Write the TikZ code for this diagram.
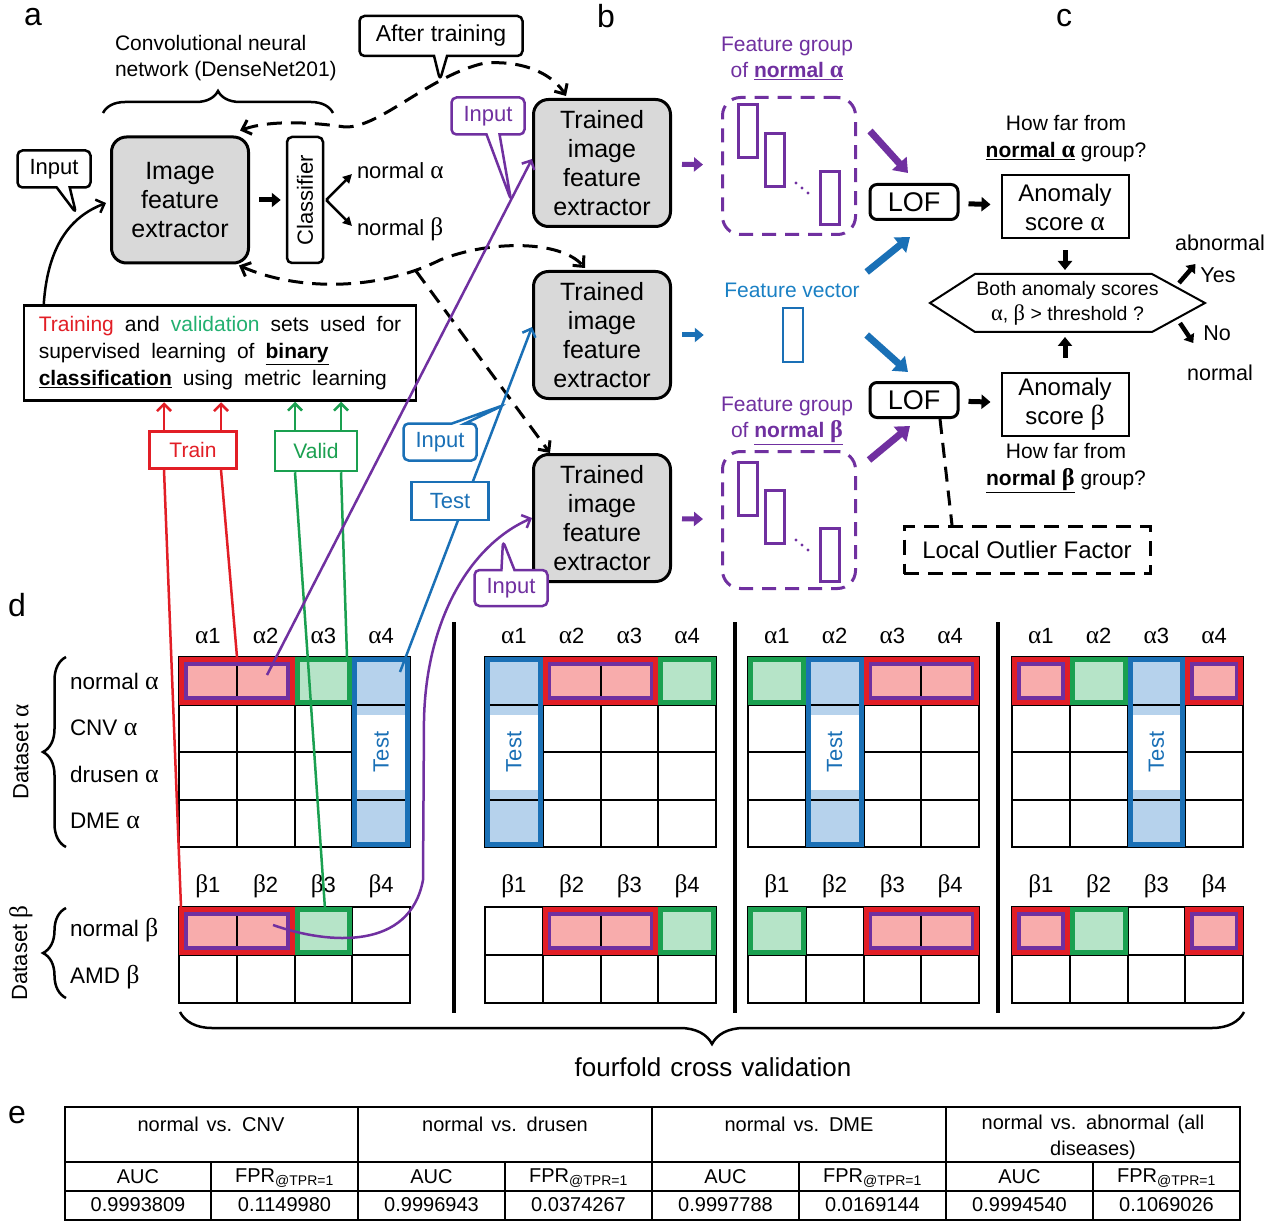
\documentclass[tikz,border=0pt]{standalone}
\usepackage{fontspec}
\setmainfont{Liberation Sans}
\newfontfamily\grk[Scale=MatchLowercase]{Liberation Serif}
\usetikzlibrary{arrows.meta,shapes.callouts,decorations.pathreplacing}
\newcommand\GA{{\grk α}}
\newcommand\GB{{\grk β}}
\newcommand\fs[2]{\fontsize{#1}{#2}\selectfont}
\protected\def\tvfont{\fontsize{21}{27}\selectfont\spaceskip=11pt\relax}
\protected\def\fcvfont{\fontsize{26}{30}\selectfont\spaceskip=9pt\relax}
\protected\def\ttfontx{\fontsize{20}{26}\selectfont\spaceskip=8pt\relax}
\definecolor{cred}{RGB}{226,30,38}
\definecolor{cpink}{RGB}{248,172,172}
\definecolor{cgreen}{RGB}{26,160,80}
\definecolor{clgreen}{RGB}{182,228,200}
\definecolor{cblue}{RGB}{26,112,182}
\definecolor{clblue}{RGB}{182,210,236}
\definecolor{cpurple}{RGB}{112,48,160}
\definecolor{cbluet}{RGB}{26,128,196}
\definecolor{cvalid}{RGB}{34,176,112}
\definecolor{cgray}{RGB}{217,217,217}
\def\cw{57.75}
\def\rh{47.5}
\newcommand\cfill[5]{\fill[#5] ({#1+(#2-1)*\cw},#4) rectangle ({#1+(#3)*\cw},{#4+\rh});}
\newcommand\redsel[4]{%
  \draw[cred,line width=5pt] ({#1+(#2-1)*\cw+2.5},{#4+2.5}) rectangle ({#1+(#3)*\cw-2.5},{#4+\rh-2.5});
  \draw[cpurple,line width=3.5pt] ({#1+(#2-1)*\cw+6.75},{#4+6.75}) rectangle ({#1+(#3)*\cw-6.75},{#4+\rh-6.75});}
\newcommand\grnsel[3]{\draw[cgreen,line width=5pt] ({#1+(#2-1)*\cw+2.5},{#3+2.5}) rectangle ({#1+(#2)*\cw-2.5},{#3+\rh-2.5});}
\newcommand\testfill[2]{\fill[clblue] ({#1+(#2-1)*\cw},657) rectangle ({#1+(#2)*\cw},847);}
\newcommand\testsel[2]{%
  \fill[white] ({#1+(#2-1)*\cw+5},715) rectangle ({#1+(#2)*\cw-5},790);
  \node[txt,rotate=90,text=cblue,font=\fs{22}{26}] (test#1) at ({#1+(#2-0.5)*\cw},752) {Test};
  \draw[cblue,line width=5pt] ({#1+(#2-1)*\cw+2.5},659.5) rectangle ({#1+(#2)*\cw-2.5},844.5);}
\begin{document}
\begin{tikzpicture}[x=1pt,y=-1pt,
  txt/.style={inner sep=0pt, outer sep=0pt, align=center},
  gbox/.style={draw, line width=3pt, rounded corners=15pt, fill=cgray, minimum width=137pt, minimum height=127pt, align=center, inner sep=0pt, font=\fs{25}{29}},
  cbox/.style={rectangle callout, draw, line width=2.5pt, rounded corners=5pt, fill=white, inner sep=0pt, minimum width=73pt, minimum height=37pt, callout pointer width=13pt, font=\fs{22}{26}},
  thinarr/.style={line width=2.5pt, -{Straight Barb[length=7pt,width=14pt]}},
  blk/.style={line width=5pt, -{Triangle[length=9pt,width=14pt]}},
  blks/.style={line width=4.5pt, -{Triangle[length=8pt,width=12pt]}},
  fat/.style={line width=7pt, -{Triangle[length=13pt,width=19pt]}},
  dsh/.style={line width=3pt, dash pattern=on 15pt off 9pt},
  brc/.style={decorate, decoration={brace, amplitude=#1}, line width=2.5pt},
  fgbox/.style={draw=cpurple, line width=3pt, dash pattern=on 14pt off 9pt, rounded corners=18pt, minimum width=133pt, minimum height=137pt, inner sep=0pt},
  vrect/.style={draw=cpurple, line width=2.5pt, minimum width=19pt, minimum height=53pt, inner sep=0pt},
  lofbox/.style={draw, line width=3pt, rounded corners=7pt, minimum width=88pt, minimum height=35pt, inner sep=0pt, font=\fs{27}{30}},
  abox/.style={draw, line width=2pt, minimum width=127pt, minimum height=63pt, inner sep=0pt, align=center, font=\fs{24}{29}},
  gline/.style={line width=2pt, line cap=rect},
  tline/.style={line width=2pt},
  lbl/.style={txt, font=\fs{32}{36}},
  tt/.style={txt, font=\ttfontx}
]
\useasboundingbox (0,0) rectangle (1279,1222);
\fill[white] (0,0) rectangle (1279,1222);

% panel letters
\node[lbl] (la) at (33,17) {a};
\node[lbl] (lb) at (606,16) {b};
\node[lbl] (lc) at (1064,18) {c};
\node[lbl] (ld) at (17,605) {d};
\node[lbl] (le) at (17,1115) {e};

% ---------- panel a ----------
\node[txt, anchor=west, align=left, font=\fs{21}{26}] (cnn) at (115,58) {Convolutional neural\\network (DenseNet201)};
\draw[brc=22pt] (103,113) -- (333,113);
\node[gbox, minimum height=126pt] (ife) at (180,200) {Image\\feature\\extractor};
\node[draw, line width=2.5pt, rounded corners=5pt, minimum width=36pt, minimum height=126pt, inner sep=0pt] (cls) at (305,200) {};
\node[txt, rotate=90, font=\fs{22}{26}] (clst) at (cls) {Classifier};
\draw[blk, shorten <=9pt, shorten >=5pt] (ife) -- (cls);
\node[txt, anchor=west, font=\fs{22}{25}] (na) at (357,171) {normal \GA};
\node[txt, anchor=west, font=\fs{22}{25}] (nb) at (357,229) {normal \GB};
\draw[line width=2.5pt, -{Triangle[length=9pt,width=9pt]}] ([xshift=2]cls.east) -- ([shift={(-5,3)}]na.west);
\draw[line width=2.5pt, -{Triangle[length=9pt,width=9pt]}] ([xshift=2]cls.east) -- ([shift={(-5,-3)}]nb.west);
\node[cbox, callout absolute pointer={(76,213)}] (in1) at (54,169) {Input};
\node[cbox, minimum width=163pt, minimum height=40pt, font=\fs{23}{27}, callout absolute pointer={(440,80)}] (atr) at (441,36) {After training};

% training / validation box
\node[draw, line width=2.5pt, minimum width=392pt, minimum height=95pt, inner sep=0pt, align=left, font=\tvfont] (tv) at (220,353) {\textcolor{cred}{Training} and \textcolor{cvalid}{validation} sets used for\\supervised learning of \underline{\textbf{binary}}\\\underline{\textbf{classification}} using metric learning};
\draw[thinarr] ([xshift=21]tv.north west) .. controls (48,240) and (75,215) .. ([shift={(-4,3)}]ife.west);

% ---------- panel b ----------
\node[gbox] (tr1) at (602,163) {Trained\\image\\feature\\extractor};
\node[gbox] (tr2) at (602,335) {Trained\\image\\feature\\extractor};
\node[gbox] (tr3) at (602,518) {Trained\\image\\feature\\extractor};

% dashed "after training" curves
\draw[dsh, {Straight Barb[length=8pt,width=15pt]}-{Straight Barb[length=8pt,width=15pt]}] ([shift={(-10,-5)}]ife.north east) .. controls (270,120) and (310,122) .. (345,127) .. controls (380,128) and (430,75) .. (485,63) .. controls (530,60) and (555,78) .. ([shift={(-36,-2)}]tr1.north);
\draw[dsh, {Straight Barb[length=8pt,width=15pt]}-{Straight Barb[length=8pt,width=15pt]}] ([shift={(-11,1)}]ife.south east) .. controls (300,292) and (380,290) .. (440,260) .. controls (490,240) and (560,240) .. ([shift={(-17,-2)}]tr2.north);
\coordinate (br) at (416,271);
\draw[dsh, -{Straight Barb[length=8pt,width=15pt]}] (br) -- ([xshift=-52]tr3.north);

% feature groups
\node[txt, text=cpurple, font=\fs{21}{26}] (fgat) at (787,58) {Feature group\\of \underline{\textbf{normal \GA}}};
\node[fgbox] (fga) at (789,166) {};
\node[vrect] (fa1) at (748,131) {};
\node[vrect] (fa2) at (775,160) {};
\node[vrect] (fa3) at (830,198) {};
\fill[cpurple] (796,183) circle (1.6pt) (802,188) circle (1.6pt) (808,193) circle (1.6pt);

\node[txt, text=cbluet, font=\fs{21}{25}] (fvt) at (792,290) {Feature vector};
\node[draw=cblue, line width=2.5pt, minimum width=20pt, minimum height=54pt, inner sep=0pt] (fv) at (793,335) {};

\node[txt, text=cpurple, font=\fs{21}{26}] (fgbt) at (787,421) {Feature group\\of \underline{\textbf{normal \GB}}};
\node[fgbox] (fgb) at (789,520) {};
\node[vrect] (fb1) at (748,489) {};
\node[vrect] (fb2) at (775,517) {};
\node[vrect] (fb3) at (830,555) {};
\fill[cpurple] (796,540) circle (1.6pt) (802,545) circle (1.6pt) (808,550) circle (1.6pt);

\draw[blk, cpurple, shorten <=10pt, shorten >=18pt] (tr1) -- (fga);
\draw[blk, cblue, shorten <=10pt, shorten >=78pt] (tr2) -- (fv);
\draw[blk, cpurple, shorten <=10pt, shorten >=18pt] (tr3) -- (fgb);

% ---------- panel c ----------
\node[lofbox] (lof1) at (914,202) {LOF};
\node[lofbox] (lof2) at (914,400) {LOF};
\draw[fat, cpurple] ([shift={(13,35)}]fga.north east) -- ([shift={(-6,-10)}]lof1.north);
\draw[fat, cblue] ([shift={(7,-18)}]fvt.east) -- ([shift={(-4,16)}]lof1.south);
\draw[fat, cblue] ([shift={(7,45)}]fvt.east) -- ([shift={(-6,-9)}]lof2.north);
\draw[fat, cpurple] ([shift={(12,10)}]fgb.north east) -- ([shift={(-4,7)}]lof2.south);

\node[abox] (asa) at (1065,207) {Anomaly\\score \GA};
\node[abox] (asb) at (1065,404) {Anomaly\\score \GB};
\draw[blk, shorten <=9pt, shorten >=10pt] (lof1) -- (asa);
\draw[blk, shorten <=9pt, shorten >=10pt] (lof2) -- (asb);
\node[txt, font=\fs{21}{27}] (hfa) at (1066,139) {How far from\\\underline{\textbf{normal \GA}} group?};
\node[txt, font=\fs{21}{27}] (hfb) at (1066,468) {How far from\\\underline{\textbf{normal \GB}} group?};

\node[txt, minimum width=275pt, minimum height=58pt, font=\fs{19.5}{25}] (hex) at (1067.5,303) {Both anomaly scores\\\GA, \GB{} > threshold ?};
\draw[line width=2pt] (hex.west) -- ([xshift=45]hex.north west) -- ([xshift=-53]hex.north east) -- (hex.east) -- ([xshift=-53]hex.south east) -- ([xshift=45]hex.south west) -- cycle;
\draw[blk, shorten <=11pt, shorten >=4pt] (asa.south) -- (asa.south |- hex.north);
\draw[blk, shorten <=14pt, shorten >=5pt] (asb.north) -- (asb.north |- hex.south);

\node[txt, font=\fs{21.5}{24}] (abn) at (1220,243) {abnormal};
\node[txt, font=\fs{21.5}{24}] (yes) at (1218,275) {Yes};
\node[txt, font=\fs{21.5}{24}] (no) at (1217,333) {No};
\node[txt, font=\fs{21.5}{24}] (nrm) at (1220,373) {normal};
\coordinate (yes0) at (1179,283);
\coordinate (no0) at (1180,323);
\draw[blks] (yes0) -- ([shift={(-5,-11)}]yes.west);
\draw[blks] (no0) -- ([shift={(-10,10)}]no.west);

\node[draw, dsh, minimum width=246pt, minimum height=47pt, inner sep=0pt, font=\fs{24}{26}] (lofb) at (1027,550) {Local Outlier Factor};
\draw[dsh] ([xshift=26]lof2.south) -- ([xshift=-75]lofb.north);

% ---------- panel d: fills ----------
\cfill{179}{1}{2}{657}{cpink} \cfill{179}{3}{3}{657}{clgreen} \testfill{179}{4}
\cfill{179}{1}{2}{907}{cpink} \cfill{179}{3}{3}{907}{clgreen}
\testfill{485}{1} \cfill{485}{2}{3}{657}{cpink} \cfill{485}{4}{4}{657}{clgreen}
\cfill{485}{2}{3}{907}{cpink} \cfill{485}{4}{4}{907}{clgreen}
\cfill{748}{1}{1}{657}{clgreen} \testfill{748}{2} \cfill{748}{3}{4}{657}{cpink}
\cfill{748}{1}{1}{907}{clgreen} \cfill{748}{3}{4}{907}{cpink}
\cfill{1012}{1}{1}{657}{cpink} \cfill{1012}{2}{2}{657}{clgreen} \testfill{1012}{3} \cfill{1012}{4}{4}{657}{cpink}
\cfill{1012}{1}{1}{907}{cpink} \cfill{1012}{2}{2}{907}{clgreen} \cfill{1012}{4}{4}{907}{cpink}

% grids and headers
\foreach \px in {179,485,748,1012}{
  \foreach \k in {0,...,4}{
    \draw[gline] ({\px+\k*\cw},657) -- ({\px+\k*\cw},847);
    \draw[gline] ({\px+\k*\cw},907) -- ({\px+\k*\cw},1003);
    \draw[gline] (\px,{657+\k*\rh}) -- ({\px+4*\cw},{657+\k*\rh});
  }
  \foreach \k in {0,1,2}{\draw[gline] (\px,{907+\k*48}) -- ({\px+4*\cw},{907+\k*48});}
  \foreach \k in {1,...,4}{
    \node[txt,font=\fs{22}{26}] (ha\px-\k) at ({\px+(\k-0.5)*\cw},636) {\GA\k};
    \node[txt,font=\fs{22}{26}] (hb\px-\k) at ({\px+(\k-0.5)*\cw},886) {\GB\k};
  }
}

% test columns and selections
\testsel{179}{4} \testsel{485}{1} \testsel{748}{2} \testsel{1012}{3}
\redsel{179}{1}{2}{657} \grnsel{179}{3}{657}
\redsel{179}{1}{2}{907} \grnsel{179}{3}{907}
\redsel{485}{2}{3}{657} \grnsel{485}{4}{657}
\redsel{485}{2}{3}{907} \grnsel{485}{4}{907}
\grnsel{748}{1}{657} \redsel{748}{3}{4}{657}
\grnsel{748}{1}{907} \redsel{748}{3}{4}{907}
\redsel{1012}{1}{1}{657} \grnsel{1012}{2}{657} \redsel{1012}{4}{4}{657}
\redsel{1012}{1}{1}{907} \grnsel{1012}{2}{907} \redsel{1012}{4}{4}{907}

% separators
\draw[line width=4pt] (454,622) -- (454,1013);
\draw[line width=4pt] (735,622) -- (735,1013);
\draw[line width=4pt] (998,622) -- (998,1013);

% row labels and braces
\node[txt, anchor=west, font=\fs{22.5}{26}] (r1) at (70,681) {normal \GA};
\node[txt, anchor=west, font=\fs{22.5}{26}] (r2) at (70,728) {CNV \GA};
\node[txt, anchor=west, font=\fs{22.5}{26}] (r3) at (70,774) {drusen \GA};
\node[txt, anchor=west, font=\fs{22.5}{26}] (r4) at (70,821) {DME \GA};
\node[txt, anchor=west, font=\fs{22.5}{26}] (r5) at (70,930) {normal \GB};
\node[txt, anchor=west, font=\fs{22.5}{26}] (r6) at (70,977) {AMD \GB};
\draw[brc=23pt] (66,847) -- (66,657);
\draw[brc=23pt] (66,998) -- (66,908);
\node[txt, rotate=90, font=\fs{22}{26}] (dsa) at (21,752) {Dataset \GA};
\node[txt, rotate=90, font=\fs{22}{26}] (dsb) at (21,953) {Dataset \GB};

\draw[brc=32pt] (1244,1012) -- (180,1012);
\node[txt, font=\fcvfont] (fcv) at (713,1067) {fourfold cross validation};

% ---------- connectors from the grid ----------
\node[draw=cred, text=cred, line width=2.5pt, fill=white, minimum width=87pt, minimum height=37pt, inner sep=0pt, font=\fs{21}{25}] (train) at (193,450) {Train};
\node[draw=cgreen, text=cgreen, line width=2.5pt, fill=white, minimum width=82pt, minimum height=40pt, inner sep=0pt, font=\fs{21}{25}] (valid) at (316,451) {Valid};
\draw[thinarr, cred] ([xshift=-29]train.north) -- ++(0,-28);
\draw[thinarr, cred] ([xshift=28]train.north) -- ++(0,-28);
\draw[thinarr, cgreen] ([xshift=-21]valid.north) -- ++(0,-28);
\draw[thinarr, cgreen] ([xshift=25]valid.north) -- ++(0,-28);

\coordinate (rb) at (181,907);
\coordinate (ra) at (237,657);
\coordinate (gb) at (325,909);
\coordinate (ga) at (347,657);
\coordinate (pa) at (267,675);
\coordinate (pb) at (273,925);
\coordinate (ba) at (400,672);
\draw[cred, line width=2.5pt] ([xshift=-29]train.south) -- (rb);
\draw[cred, line width=2.5pt] ([xshift=28]train.south) -- (ra);
\draw[cgreen, line width=2.5pt] ([xshift=-21]valid.south) -- (gb);
\draw[cgreen, line width=2.5pt] ([xshift=25]valid.south) -- (ga);

\draw[thinarr, cpurple] (pa) -- ([yshift=4]tr1.west);
\draw[thinarr, cblue] (ba) -- ([yshift=8]tr2.west);
\draw[thinarr, cpurple] (pb) .. controls (330,945) and (410,950) .. (423,880) -- (424,720) .. controls (426,620) and (470,545) .. (tr3.west);

\node[draw=cblue, text=cblue, line width=2.5pt, fill=white, minimum width=77pt, minimum height=38pt, inner sep=0pt, font=\fs{22}{26}] (testb) at (450,501) {Test};
\node[cbox, draw=cpurple, text=cpurple, callout absolute pointer={(511,200)}] (in2) at (488,116) {Input};
\node[cbox, draw=cblue, text=cblue, callout absolute pointer={(504,405)}] (in3) at (440,442) {Input};
\node[cbox, draw=cpurple, text=cpurple, minimum height=36pt, callout absolute pointer={(503,541)}] (in4) at (511,588) {Input};

% ---------- panel e: table ----------
\draw[tline] (65,1107) rectangle (1240,1220);
\draw[line width=2.5pt] (65,1107) -- (1240,1107);
\draw[tline] (65,1162) -- (1240,1162);
\draw[tline] (65,1191) -- (1240,1191);
\foreach \x in {358,652,946} \draw[tline] (\x,1107) -- (\x,1220);
\foreach \x in {211,505,799,1093} \draw[tline] (\x,1162) -- (\x,1220);
\node[tt] (h1) at (211,1124) {normal vs. CNV};
\node[tt] (h2) at (505,1124) {normal vs. drusen};
\node[tt] (h3) at (799,1124) {normal vs. DME};
\node[tt] (h4) at (1093,1137) {normal vs. abnormal (all\\diseases)};
\foreach \x/\n in {138/1,431.5/2,725.5/3,1019.5/4}{
  \node[tt] (auc\n) at (\x,1177) {AUC};
}
\foreach \x/\n in {284.5/1,578.5/2,872.5/3,1166.5/4}{
  \node[tt] (fpr\n) at (\x,1178) {FPR\textsubscript{@TPR=1}};
}
\node[tt] (v1) at (138,1205) {0.9993809};
\node[tt] (v2) at (284.5,1205) {0.1149980};
\node[tt] (v3) at (431.5,1205) {0.9996943};
\node[tt] (v4) at (578.5,1205) {0.0374267};
\node[tt] (v5) at (725.5,1205) {0.9997788};
\node[tt] (v6) at (872.5,1205) {0.0169144};
\node[tt] (v7) at (1019.5,1205) {0.9994540};
\node[tt] (v8) at (1166.5,1205) {0.1069026};
\end{tikzpicture}
\end{document}
